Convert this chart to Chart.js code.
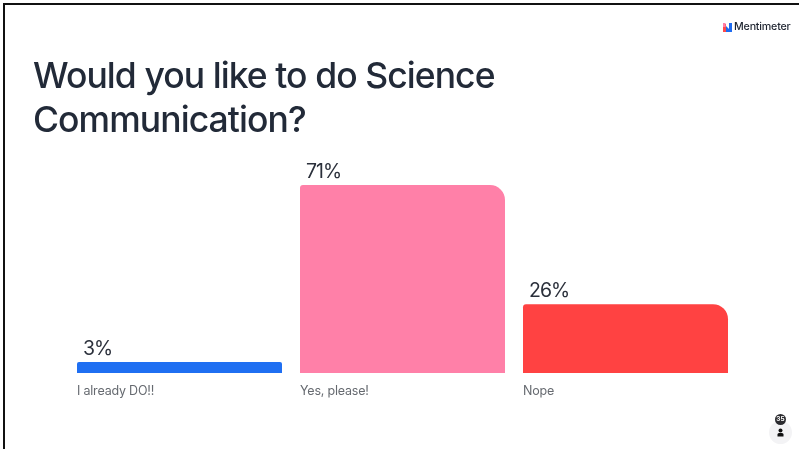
<!DOCTYPE html>
<html><head><meta charset="utf-8">
<script src="https://cdn.jsdelivr.net/npm/chart.js@4"></script>
<style>
html,body{margin:0;padding:0;background:#fff;width:799px;height:449px;overflow:hidden;font-family:Inter,sans-serif}
#frame{position:absolute;left:3px;top:3px;width:796px;height:446px;border-left:2px solid #111;border-top:2px solid #111;box-sizing:border-box;pointer-events:none}
#wrap{position:absolute;left:0;top:0;width:799px;height:449px}
#title{position:absolute;left:33px;top:54px;margin:0;font:500 35.5px/44px Inter,sans-serif;letter-spacing:-.93px;color:#222a38;white-space:nowrap}
#logo{position:absolute;left:723px;top:20px;display:flex;align-items:center;gap:2px;font:500 10.7px/14px Inter,sans-serif;color:#1e2430;letter-spacing:-.2px}
#badge{position:absolute;left:775px;top:414px;width:11px;height:11px;border-radius:50%;background:#2b2b2f;color:#fff;font:700 6.5px/11px Inter,sans-serif;text-align:center}
#user{position:absolute;left:769px;top:421px;width:23px;height:23px;border-radius:50%;background:#f3f3f5}
</style></head><body>
<div id="wrap"><canvas id="c" width="799" height="449"></canvas></div>
<div id="frame"></div>
<h1 id="title">Would you like to do Science<br>Communication?</h1>
<div id="logo"><svg width="9" height="9" viewBox="0 0 9 9"><rect x="0" y="1" width="3" height="8" fill="#ff4a4a"/><rect x="0" y="0" width="2.5" height="4" fill="#ff80a8"/><path d="M3 9V3l3 3V9z" fill="#1e6bf0"/><rect x="6" y="0" width="3" height="9" fill="#1e6bf0"/></svg><span>Mentimeter</span></div>
<div id="user"><svg width="23" height="23" viewBox="0 0 23 23"><circle cx="11.5" cy="9.5" r="2" fill="#111"/><path d="M8.5 15.5v-2q0-1.5 1.5-1.5h3q1.5 0 1.5 1.5v2z" fill="#111"/></svg></div>
<div id="badge">35</div>
<script>
const categories = ['I already DO!!', 'Yes, please!', 'Nope'];
const percentages = [3, 71, 26];
const barColors = ['#1f6ff2', '#ff80a8', '#ff4242'];

const edgeLabels = {
  id: 'edgeLabels',
  afterDatasetsDraw(chart) {
    const { ctx } = chart;
    const bars = chart.getDatasetMeta(0).data;
    ctx.save();
    ctx.textBaseline = 'alphabetic';
    ctx.textAlign = 'left';
    bars.forEach((bar, i) => {
      const left = bar.x - bar.width / 2;
      ctx.font = '400 19.5px Inter, sans-serif';
      ctx.letterSpacing = '-1px';
      ctx.fillStyle = '#2b303b';
      ctx.fillText(percentages[i] + '%', left + 6, bar.y - 7);
      ctx.font = '400 12.5px Inter, sans-serif';
      ctx.letterSpacing = '-0.2px';
      ctx.fillStyle = '#666a70';
      ctx.fillText(categories[i], left, chart.scales.y.bottom + 22);
    });
    ctx.restore();
  }
};

new Chart(document.getElementById('c'), {
  type: 'bar',
  data: {
    labels: categories,
    datasets: [{
      data: percentages,
      backgroundColor: barColors,
      barPercentage: 1,
      categoryPercentage: 205 / 223,
      minBarLength: 11,
      borderSkipped: false,
      borderRadius: c => {
        const big = c.parsed && c.parsed.y > 10;
        return { topLeft: big ? 3 : 2, topRight: big ? 15 : 2, bottomLeft: 0, bottomRight: 0 };
      }
    }]
  },
  options: {
    responsive: false,
    animation: false,
    events: [],
    layout: { padding: { left: 68, right: 62, top: 185, bottom: 76 } },
    plugins: { legend: { display: false }, tooltip: { enabled: false } },
    scales: {
      x: { display: false },
      y: { display: false, min: 0, max: 71 }
    }
  },
  plugins: [edgeLabels]
});
</script>
</body></html>
